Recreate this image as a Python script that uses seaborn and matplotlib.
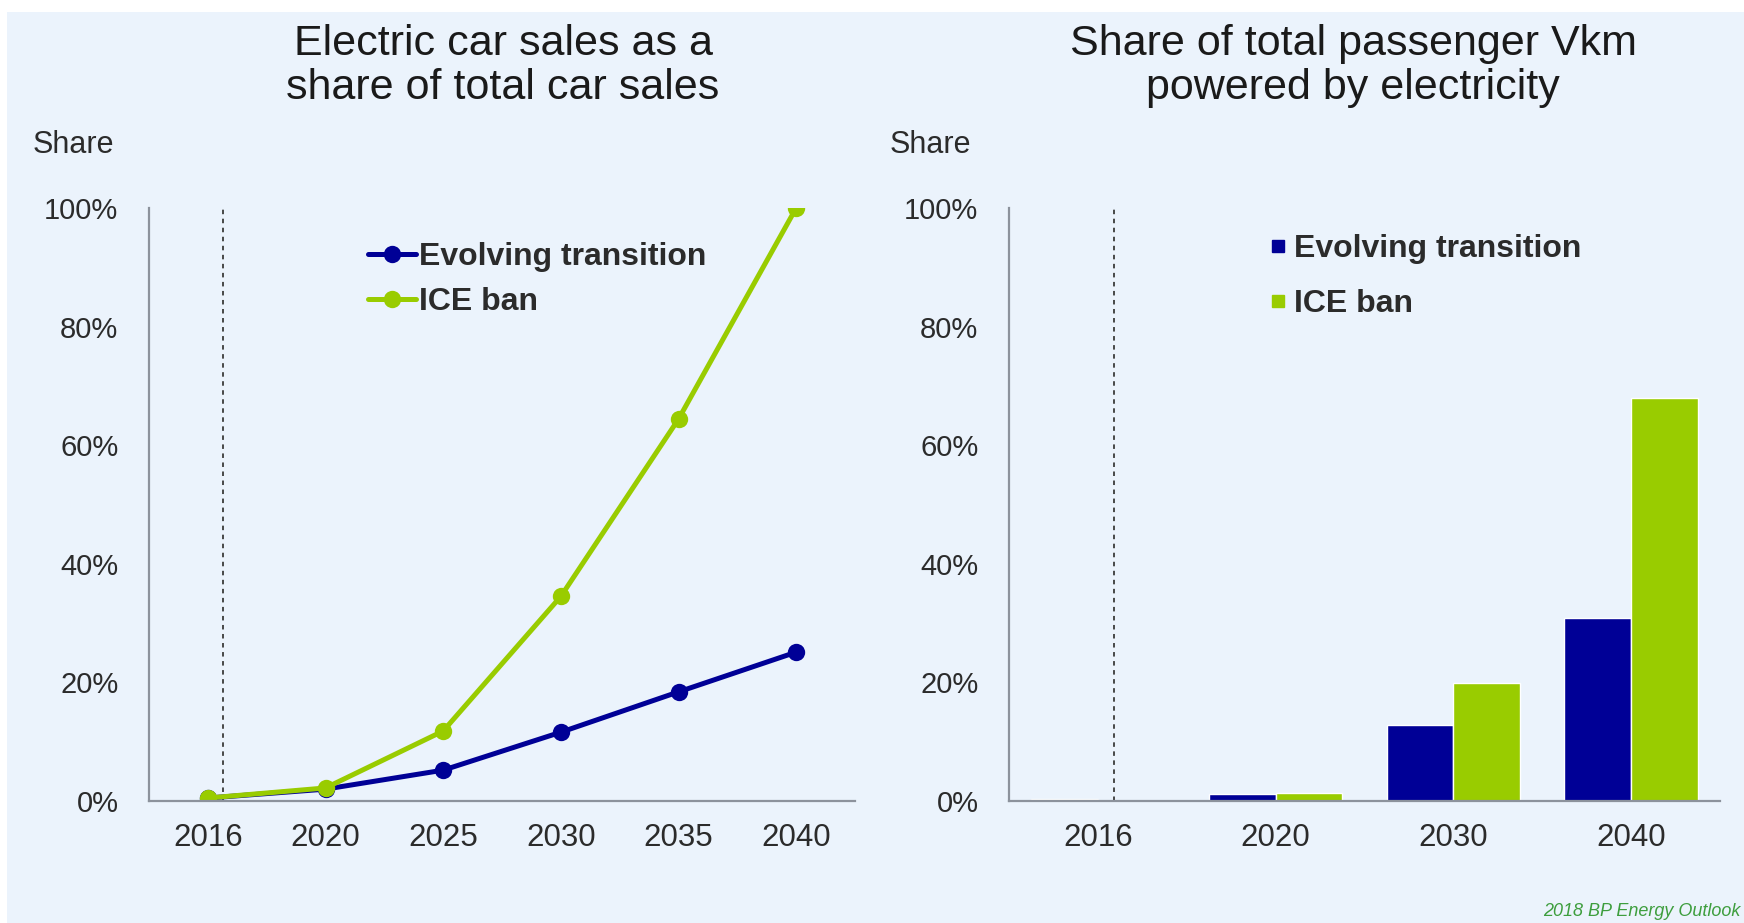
import matplotlib
matplotlib.use("Agg")
import matplotlib.pyplot as plt
import seaborn as sns
import pandas as pd
from matplotlib.lines import Line2D
from matplotlib.patches import Rectangle
from matplotlib.ticker import MultipleLocator, PercentFormatter

# Electric car sales as a share of total car sales (%)
sales_years = ["2016", "2020", "2025", "2030", "2035", "2040"]
sales_evolving = [0.5, 2.0, 5.2, 11.6, 18.4, 25.1]
sales_ice_ban = [0.5, 2.2, 11.8, 34.5, 64.4, 100.0]

# Share of total passenger Vkm powered by electricity (%)
vkm_years = ["2016", "2020", "2030", "2040"]
vkm_evolving = [0.3, 1.1, 12.8, 30.8]
vkm_ice_ban = [0.0, 1.3, 19.9, 67.9]

scenarios = ["Evolving transition", "ICE ban"]

BLUE = "#000096"
GREEN = "#99CC00"
BG = "#EBF3FC"
SPINE = "#8C929C"
TEXT = "#2B2B2B"

sns.set_style("white")
plt.rcParams["font.family"] = ["Liberation Sans", "DejaVu Sans"]

sales_df = pd.DataFrame({
    "year": sales_years * 2,
    "share": sales_evolving + sales_ice_ban,
    "scenario": [scenarios[0]] * len(sales_years) + [scenarios[1]] * len(sales_years),
})
vkm_df = pd.DataFrame({
    "year": vkm_years * 2,
    "share": vkm_evolving + vkm_ice_ban,
    "scenario": [scenarios[0]] * len(vkm_years) + [scenarios[1]] * len(vkm_years),
})
palette = {scenarios[0]: BLUE, scenarios[1]: GREEN}

W, H = 1744, 923
fig = plt.figure(figsize=(W / 100, H / 100), dpi=100, facecolor="white")
fig.patches.append(Rectangle((7 / W, 0), 1, 1 - 12 / H, transform=fig.transFigure,
                             facecolor=BG, edgecolor="none", zorder=-10))

ax1 = fig.add_axes([149 / W, 1 - 801 / H, (855 - 149) / W, (801 - 208) / H])
ax2 = fig.add_axes([1009 / W, 1 - 801 / H, (1720 - 1009) / W, (801 - 208) / H])

sns.lineplot(data=sales_df, x="year", y="share", hue="scenario", hue_order=scenarios,
             palette=palette, marker="o", markersize=12.5, markeredgewidth=0,
             linewidth=3.6, sort=False, legend=False, ax=ax1)

sns.barplot(data=vkm_df, x="year", y="share", hue="scenario", hue_order=scenarios,
            palette=palette, width=0.75, saturation=1, legend=False, ax=ax2)

for ax, ncat, vline_x in ((ax1, len(sales_years), 0.13), (ax2, len(vkm_years), 0.09)):
    ax.set_facecolor("none")
    ax.set_xlim(-0.5, ncat - 0.5)
    ax.set_ylim(0, 100)
    ax.axvline(vline_x, color="#3A3A3A", lw=1.3, ls=(0, (2.5, 2.5)), zorder=0.5)
    ax.yaxis.set_major_locator(MultipleLocator(20))
    ax.yaxis.set_major_formatter(PercentFormatter(decimals=0))
    ax.set_xlabel("")
    ax.set_ylabel("")
    for s in ("top", "right"):
        ax.spines[s].set_visible(False)
    for s in ("left", "bottom"):
        ax.spines[s].set_color(SPINE)
        ax.spines[s].set_linewidth(1.6)
    ax.tick_params(axis="y", direction="in", length=7, width=1.2, color=SPINE,
                   pad=22, labelsize=21, labelcolor=TEXT)
    ax.tick_params(axis="x", length=0, pad=16, labelsize=22.5, labelcolor=TEXT)

# Titles and axis captions
fig.text(503 / W, 1 - 66 / H, "Electric car sales as a\nshare of total car sales",
         ha="center", va="center", fontsize=31, linespacing=1.12, color="#1A1A1A")
fig.text(1353 / W, 1 - 66 / H, "Share of total passenger Vkm\npowered by electricity",
         ha="center", va="center", fontsize=31, linespacing=1.12, color="#1A1A1A")
fig.text(33 / W, 1 - 145 / H, "Share", ha="left", va="center", fontsize=22, color=TEXT)
fig.text(890 / W, 1 - 145 / H, "Share", ha="left", va="center", fontsize=22, color=TEXT)

# Legends
line_handles = [Line2D([0], [0], color=palette[s], lw=3.6, marker="o", ms=12.5, mew=0)
                for s in scenarios]
ax1.legend(line_handles, scenarios, loc="upper left",
           bbox_to_anchor=(352 / W, 1 - 226 / H), bbox_transform=fig.transFigure,
           frameon=False, prop={"weight": "bold", "size": 23},
           handlelength=1.5, handletextpad=0.1, labelspacing=0.48, borderpad=0,
           labelcolor=TEXT)
box_handles = [Line2D([0], [0], color=palette[s], lw=0, marker="s", ms=8.5)
               for s in scenarios]
ax2.legend(box_handles, scenarios, loc="upper left",
           bbox_to_anchor=(1254 / W, 1 - 218 / H), bbox_transform=fig.transFigure,
           frameon=False, prop={"weight": "bold", "size": 23},
           handlelength=0.5, handletextpad=0.25, labelspacing=0.78, borderpad=0,
           labelcolor=TEXT)

fig.text(1740 / W, 1 - 911 / H, "2018 BP Energy Outlook", ha="right", va="center",
         fontsize=13, style="italic", color="#3E9E3E")

fig.savefig("out.png", dpi=100, facecolor=fig.get_facecolor())
